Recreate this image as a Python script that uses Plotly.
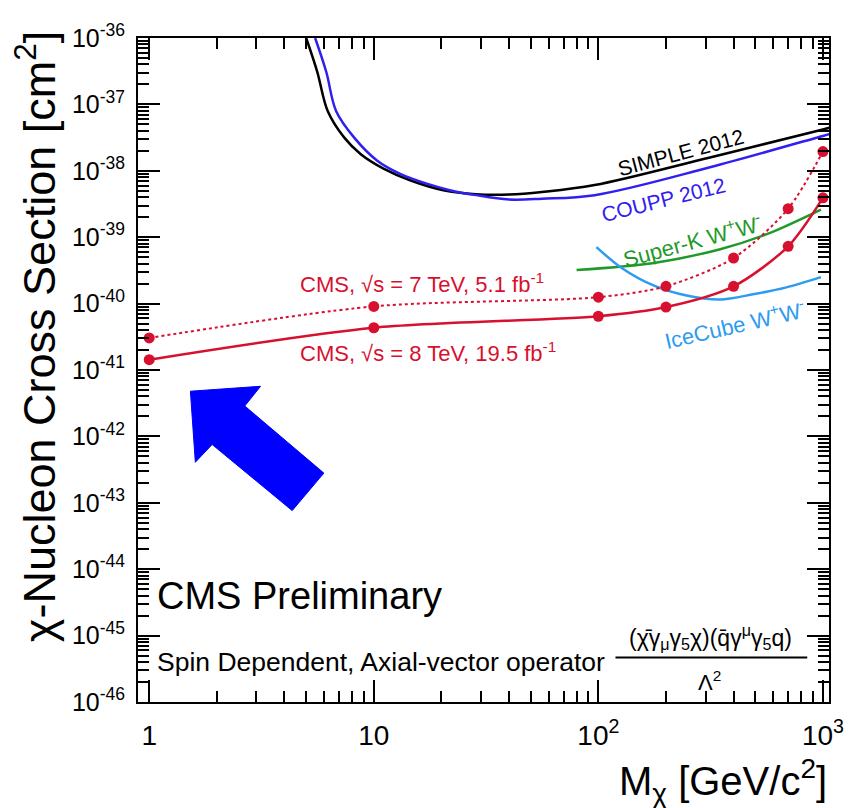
import plotly.graph_objects as go

# ---------------- data ----------------
mass_cms = [1, 10, 100, 200, 400, 700, 1000]
cms8_xs = [1.43e-41, 4.33e-41, 6.45e-41, 8.87e-41, 1.82e-40, 7.3e-40, 3.92e-39]
cms7_xs = [3.04e-41, 9.08e-41, 1.25e-40, 1.82e-40, 4.86e-40, 2.69e-39, 1.95e-38]

simple_m = [5.0, 5.6, 6.24, 7.39, 8.75, 11.1, 14.5, 20.4, 28.5, 40, 56.1, 96.2, 314, 1000, 1070]
simple_xs = [1e-36, 3.1e-37, 7.9e-38, 3.16e-38, 1.78e-38, 1.07e-38, 7.2e-39, 5.1e-39, 4.45e-39,
             4.4e-39, 4.8e-39, 6.1e-39, 1.59e-38, 4.2e-38, 4.45e-38]

coupp_m = [5.48, 6.14, 6.8, 8.18, 10.36, 13.1, 17.2, 21.8, 28.5, 40, 56.1, 96.2, 314, 1000, 1070]
coupp_xs = [1e-36, 3.1e-37, 7.9e-38, 3.16e-38, 1.42e-38, 9.0e-39, 6.4e-39, 5.1e-39, 4.3e-39,
            3.7e-39, 3.8e-39, 4.3e-39, 1.13e-38, 3.35e-38, 3.56e-38]

superk_m = [80, 177, 349, 578, 980]
superk_xs = [3.2e-40, 4.1e-40, 6.6e-40, 1.15e-39, 2.6e-39]

icecube_m = [98, 126, 177, 247, 349, 488, 681, 980]
icecube_xs = [7.1e-40, 3.5e-40, 1.86e-40, 1.32e-40, 1.15e-40, 1.38e-40, 1.74e-40, 2.5e-40]

y_tick_exps = list(range(-46, -35))
x_tick_vals = [1, 10, 100, 1000]
x_tick_text = ["1", "10", "10<sup>2</sup>", "10<sup>3</sup>"]

# ---------------- layout geometry ----------------
OFF = 8  # page body margin
W, H = 856 - OFF, 808 - OFF
L, R, T, B = 138 - OFF, 19, 29 - OFF, 106
PW, PH = W - L - R, H - T - B


def px(x):
    return (x - OFF - L) / PW


def py(y):
    return (H - B - (y - OFF)) / PH


RED = "#d8102f"
BLUE = "#3020f0"
GREEN = "#1f9a2a"
ICE = "#2d9bef"
FONT = "Liberation Sans, Arial, sans-serif"

fig = go.Figure()

fig.add_trace(go.Scatter(x=simple_m, y=simple_xs, mode="lines",
                         line=dict(color="black", width=2.5, shape="spline", smoothing=1),
                         showlegend=False))
fig.add_trace(go.Scatter(x=coupp_m, y=coupp_xs, mode="lines",
                         line=dict(color=BLUE, width=2.5, shape="spline", smoothing=1),
                         showlegend=False))
fig.add_trace(go.Scatter(x=superk_m, y=superk_xs, mode="lines",
                         line=dict(color=GREEN, width=2.5, shape="spline", smoothing=0.8),
                         showlegend=False))
fig.add_trace(go.Scatter(x=icecube_m, y=icecube_xs, mode="lines",
                         line=dict(color=ICE, width=2.5, shape="spline", smoothing=0.8),
                         showlegend=False))
fig.add_trace(go.Scatter(x=mass_cms, y=cms7_xs, mode="lines+markers",
                         line=dict(color=RED, width=2, dash="dot", shape="spline", smoothing=0.8),
                         marker=dict(color=RED, size=11),
                         showlegend=False))
fig.add_trace(go.Scatter(x=mass_cms, y=cms8_xs, mode="lines+markers",
                         line=dict(color=RED, width=2.5, shape="spline", smoothing=0.8),
                         marker=dict(color=RED, size=11),
                         showlegend=False))

minor_x = [m * 10 ** e for e in range(0, 3) for m in range(2, 10)]
minor_y = [m * 10.0 ** e for e in range(-46, -36) for m in range(2, 10)]

fig.update_xaxes(type="log", range=[-0.05, 3.027],
                 tickvals=x_tick_vals, ticktext=x_tick_text,
                 ticks="inside", ticklen=22, tickwidth=1.5, tickcolor="black",
                 minor=dict(tickvals=minor_x, ticks="inside", ticklen=11, tickwidth=1.5, tickcolor="black"),
                 showline=True, linecolor="black", linewidth=2, mirror="ticks",
                 showgrid=False, zeroline=False,
                 tickfont=dict(family=FONT, size=28, color="black"),
                 ticklabelstandoff=7)
fig.update_yaxes(type="log", range=[-46, -36],
                 tickvals=[10.0 ** e for e in y_tick_exps],
                 ticktext=["10<sup>%d</sup>" % e for e in y_tick_exps],
                 ticks="inside", ticklen=22, tickwidth=1.5, tickcolor="black",
                 minor=dict(tickvals=minor_y, ticks="inside", ticklen=11, tickwidth=1.5, tickcolor="black"),
                 showline=True, linecolor="black", linewidth=2, mirror="ticks",
                 showgrid=False, zeroline=False,
                 tickfont=dict(family=FONT, size=25, color="black"),
                 ticklabelstandoff=6)

ann = []


def text(x, y, s, size, color="black", angle=0, xanchor="center", yanchor="middle"):
    ann.append(dict(x=px(x), y=py(y), xref="paper", yref="paper", text=s, showarrow=False,
                    font=dict(family=FONT, size=size, color=color), textangle=angle,
                    xanchor=xanchor, yanchor=yanchor))


text(35, 332, "χ-Nucleon Cross Section [cm<sup>2</sup>]", 45, angle=-90)
text(837, 782, "M<sub>χ</sub> [GeV/c<sup>2</sup>]", 40, xanchor="right")
text(687, 145, "SIMPLE 2012", 21, "black", -15)
text(670, 193, "COUPP 2012", 21, BLUE, -14)
text(699, 234, "Super-K W<sup>+</sup>W<sup>-</sup>", 22, GREEN, -15)
text(742, 319, "IceCube W<sup>+</sup>W<sup>-</sup>", 22, ICE, -13)
text(300, 277, "CMS, √s = 7 TeV, 5.1 fb<sup>-1</sup>", 22, RED, xanchor="left")
text(300, 347, "CMS, √s = 8 TeV, 19.5 fb<sup>-1</sup>", 22, RED, xanchor="left")
text(155, 595, "CMS Preliminary", 38, xanchor="left")
text(155, 661, "Spin Dependent, Axial-vector operator", 26.5, xanchor="left")
text(717, 636, "(χ̄γ<sub>μ</sub>γ<sub>5</sub>χ)(q̄γ<sup>μ</sup>γ<sub>5</sub>q)", 23)
text(716, 681, "Λ<sup>2</sup>", 22)

shapes = [
    dict(type="line", xref="paper", yref="paper", x0=px(621), x1=px(815), y0=py(657), y1=py(657),
         line=dict(color="black", width=2)),
]
arrow_pts = [(191, 387), (262, 382), (246, 402), (326, 470), (294, 508), (213, 441), (196, 459)]
path = "M " + " L ".join("%.5f,%.5f" % (px(a), py(b)) for a, b in arrow_pts) + " Z"
shapes.append(dict(type="path", xref="paper", yref="paper", path=path,
                   fillcolor="#0000ff", line=dict(color="#0000ff", width=1)))

fig.update_layout(width=W, height=H, margin=dict(l=L, r=R, t=T, b=B),
                  paper_bgcolor="white", plot_bgcolor="white",
                  annotations=ann, shapes=shapes, showlegend=False)

fig.write_html("out.html")
